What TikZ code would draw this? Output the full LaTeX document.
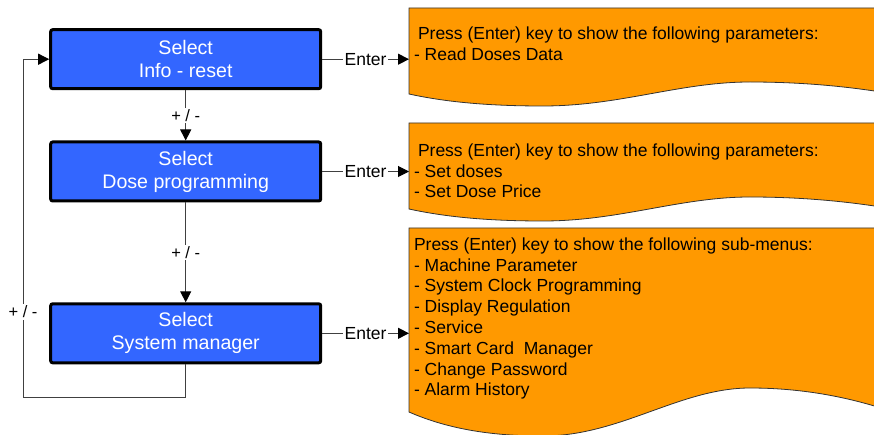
\documentclass[tikz,border=0pt]{standalone}
\usepackage{fontspec}
\setmainfont{Liberation Sans}
\usetikzlibrary{arrows.meta}
\definecolor{selblue}{RGB}{51,102,255}
\definecolor{docorange}{RGB}{255,153,0}
\begin{document}
\begin{tikzpicture}[x=1pt,y=-1pt,
 selbox/.style={draw=black, line width=3pt, rounded corners=2pt, fill=selblue, text=white,
   minimum width=270pt, minimum height=59pt, align=center, inner sep=0pt,
   font=\fontsize{19.6pt}{23pt}\selectfont},
 conn/.style={draw=black!75, line width=1pt},
 arr/.style={conn, -{Triangle[length=11pt,width=11pt,color=black]}},
 lbl/.style={fill=white, inner sep=1.5pt, font=\fontsize{17.5pt}{20pt}\selectfont},
 pmlbl/.style={fill=white, inner sep=1.5pt, font=\fontsize{16.5pt}{20pt}\selectfont},
 doc/.style={fill=docorange, draw=black!80, line width=0.8pt},
 doctext/.style={anchor=north west, align=left, inner sep=0pt,
   font=\fontsize{17.5pt}{20.8pt}\selectfont}
]
\useasboundingbox (0,0) rectangle (874,435);
\begin{scope}
\clip (0,0) rectangle (874,435);
\foreach \T/\B/\A in {8/94/12, 123/209/12, 228/412/24} {
  \path[doc] (409,\T) -- (920,\T) -- (920,\B) -- (900,\B+0.1*\A)
    .. controls (860,\B-0.5*\A) and (810,\B-\A) .. (750,\B-\A)
    .. controls (680,\B-\A) and (620,\B+\A) .. (543,\B+\A)
    .. controls (495,\B+\A) and (450,\B+0.75*\A) .. (409,\B) -- cycle;
}
\end{scope}

\node[doctext] (t1) at (413.8,26.7) {\hspace*{4pt}Press (Enter) key to show the following parameters:\\- Read Doses Data};
\node[doctext] (t2) at (413.8,143.5) {\hspace*{4pt}Press (Enter) key to show the following parameters:\\- Set doses\\- Set Dose Price};
\node[doctext] (t3) at (413.8,237.5) {Press (Enter) key to show the following sub-menus:\\- Machine Parameter\\- System Clock Programming\\- Display Regulation\\- Service\\- Smart Card\ \ Manager\\- Change Password\\- Alarm History};

\node[selbox] (b1) at (185.7,59.2) {Select\\Info - reset};
\node[selbox] (b2) at (185.7,171.5) {Select\\Dose programming};
\node[selbox] (b3) at (185.7,333.3) {Select\\System manager};

\coordinate (o1) at (409,59.2);
\coordinate (o2) at (409,171.5);
\coordinate (o3) at (409,333.3);

\draw[arr] (b1.east) -- node[lbl] (e1) {Enter} (o1);
\draw[arr] (b2.east) -- node[lbl] (e2) {Enter} (o2);
\draw[arr] (b3.east) -- node[lbl] (e3) {Enter} (o3);

\draw[arr] (b1.south) -- node[pmlbl] (pm1) {+ / -} (b2.north);
\draw[arr] (b2.south) -- node[pmlbl] (pm2) {+ / -} (b3.north);

\coordinate (l1) at (23,397);
\coordinate (l2) at (23,59.2);
\draw[arr] (b3.south) |- (l1) -- (l2) -- (b1.west);
\node[pmlbl] (pm3) at (23,312) {+ / -};
\end{tikzpicture}
\end{document}
